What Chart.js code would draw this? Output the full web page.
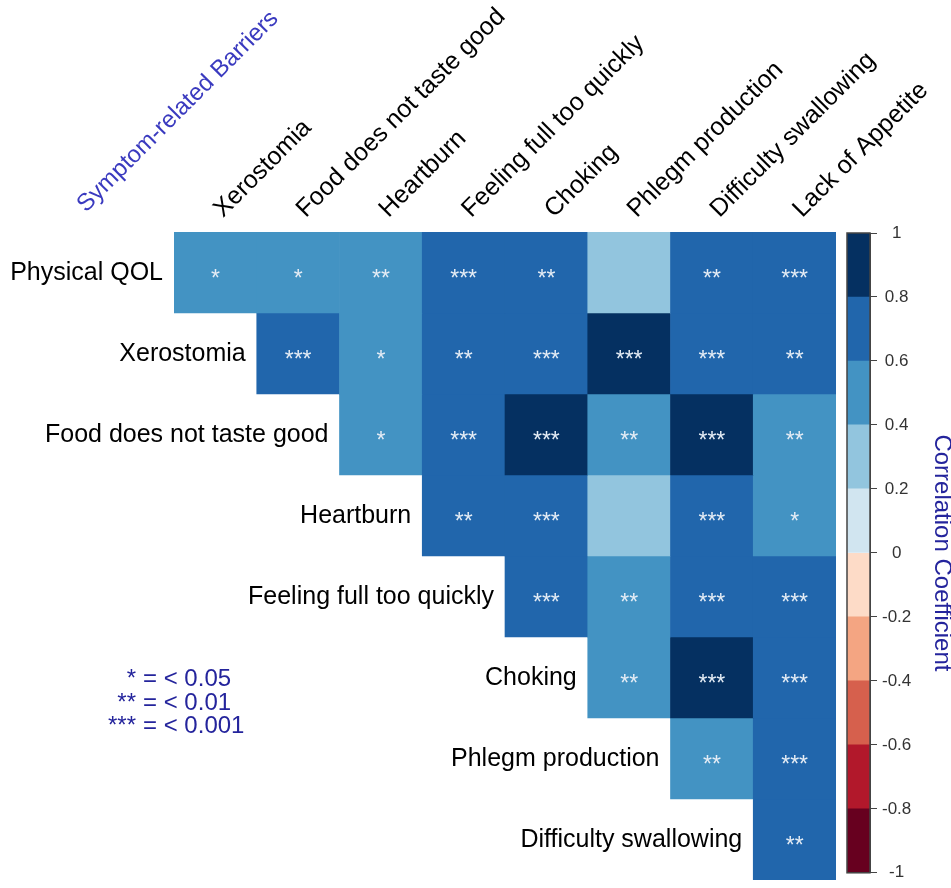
<!DOCTYPE html>
<html>
<head>
<meta charset="utf-8">
<script src="https://cdn.jsdelivr.net/npm/chart.js@4/dist/chart.umd.min.js"></script>
<style>
  html, body { margin: 0; padding: 0; background: #ffffff; }
  #wrap { position: relative; width: 951px; height: 888px; }
  #heat { position: absolute; left: 0; top: 0; }
  #bar  { position: absolute; left: 836px; top: 0; }
</style>
</head>
<body>
<div id="wrap">
  <canvas id="heat" width="951" height="888"></canvas>
  <canvas id="bar" width="115" height="888"></canvas>
</div>
<script>
// Barrier names across the top (columns) and down the side (rows)
const columnLabels = ['Xerostomia', 'Food does not taste good', 'Heartburn', 'Feeling full too quickly',
  'Choking', 'Phlegm production', 'Difficulty swallowing', 'Lack of Appetite'];
const rowLabels = ['Physical QOL', 'Xerostomia', 'Food does not taste good', 'Heartburn',
  'Feeling full too quickly', 'Choking', 'Phlegm production', 'Difficulty swallowing'];

// Correlation coefficients, one array per row (null = lower triangle, not drawn)
const physicalQol   = [0.47, 0.44, 0.52, 0.66, 0.61, 0.33, 0.63, 0.68];
const xerostomia    = [null, 0.71, 0.46, 0.62, 0.73, 0.84, 0.74, 0.65];
const foodTaste     = [null, null, 0.43, 0.70, 0.86, 0.57, 0.88, 0.55];
const heartburn     = [null, null, null, 0.64, 0.72, 0.36, 0.75, 0.48];
const feelingFull   = [null, null, null, null, 0.74, 0.56, 0.77, 0.72];
const choking       = [null, null, null, null, null, 0.54, 0.85, 0.73];
const phlegm        = [null, null, null, null, null, null, 0.58, 0.71];
const difficultySw  = [null, null, null, null, null, null, null, 0.66];

// Significance stars for each cell
const sigPhysicalQol  = ['*', '*', '**', '***', '**', '', '**', '***'];
const sigXerostomia   = ['', '***', '*', '**', '***', '***', '***', '**'];
const sigFoodTaste    = ['', '', '*', '***', '***', '**', '***', '**'];
const sigHeartburn    = ['', '', '', '**', '***', '', '***', '*'];
const sigFeelingFull  = ['', '', '', '', '***', '**', '***', '***'];
const sigChoking      = ['', '', '', '', '', '**', '***', '***'];
const sigPhlegm       = ['', '', '', '', '', '', '**', '***'];
const sigDifficultySw = ['', '', '', '', '', '', '', '**'];

// Colour scale: bin edges and the colour of each bin (low to high)
const binEdges  = [-1, -0.8, -0.6, -0.4, -0.2, 0, 0.2, 0.4, 0.6, 0.8, 1];
const binColors = ['#67001F', '#B2182B', '#D6604D', '#F4A582', '#FDDBC7',
                   '#D1E5F0', '#92C5DE', '#4393C3', '#2166AC', '#053061'];

// Significance key
const keyStars = ['*', '**', '***'];
const keyText  = ['= < 0.05', '= < 0.01', '= < 0.001'];

const matrix = [physicalQol, xerostomia, foodTaste, heartburn, feelingFull, choking, phlegm, difficultySw];
const stars  = [sigPhysicalQol, sigXerostomia, sigFoodTaste, sigHeartburn, sigFeelingFull, sigChoking, sigPhlegm, sigDifficultySw];

function colorFor(v) {
  if (v == null) return null;
  for (let i = 0; i < binColors.length; i++) {
    if (v <= binEdges[i + 1]) return binColors[i];
  }
  return binColors[binColors.length - 1];
}

const FONT = '"Liberation Sans", Arial, sans-serif';

// Stars inside the cells
const cellStars = {
  id: 'cellStars',
  afterDatasetsDraw(chart) {
    const ctx = chart.ctx;
    ctx.save();
    ctx.font = '23px ' + FONT;
    ctx.fillStyle = '#e4ecf5';
    ctx.textAlign = 'center';
    ctx.textBaseline = 'alphabetic';
    chart.data.datasets.forEach((ds, r) => {
      const meta = chart.getDatasetMeta(r);
      meta.data.forEach((el, c) => {
        if (ds.data[c] == null) return;
        const s = stars[r][c];
        if (!s) return;
        const cy = (el.y + el.base) / 2;
        ctx.fillText(s, el.x, cy + 13);
      });
    });
    ctx.restore();
  }
};

// Row labels, significance key and the group title
const sideText = {
  id: 'sideText',
  afterDraw(chart) {
    const ctx = chart.ctx;
    const xs = chart.scales.x, ys = chart.scales.y;
    const cellW = xs.getPixelForValue(1) - xs.getPixelForValue(0);
    ctx.save();
    ctx.font = '25px ' + FONT;
    ctx.fillStyle = '#000000';
    ctx.textAlign = 'right';
    ctx.textBaseline = 'middle';
    rowLabels.forEach((lab, i) => {
      const x = xs.getPixelForValue(i) - cellW / 2 - 11;
      const y = ys.getPixelForValue(i + 0.5);
      ctx.fillText(lab, x, y + 1);
    });

    // significance key
    const left = chart.chartArea.left;
    ctx.fillStyle = '#24249c';
    ctx.font = '24px ' + FONT;
    ctx.textBaseline = 'alphabetic';
    keyStars.forEach((s, i) => {
      const y = 686 + i * 23.5;
      ctx.textAlign = 'right';
      ctx.fillText(s, left - 38, y);
      ctx.textAlign = 'left';
      ctx.fillText(keyText[i], left - 31, y);
    });

    // group title, rotated like the column labels
    ctx.fillStyle = '#3a3abf';
    ctx.font = '24px ' + FONT;
    ctx.textAlign = 'left';
    ctx.translate(left - 88, 213);
    ctx.rotate(-Math.PI / 4);
    ctx.fillText('Symptom-related Barriers', 0, 0);
    ctx.restore();
  }
};

new Chart(document.getElementById('heat'), {
  type: 'bar',
  data: {
    labels: columnLabels,
    datasets: matrix.map((row, r) => ({
      label: rowLabels[r],
      data: row.map(v => (v == null ? null : [r, r + 1])),
      backgroundColor: row.map(colorFor),
      borderWidth: 0,
      grouped: false,
      barPercentage: 1,
      categoryPercentage: 1
    }))
  },
  options: {
    responsive: false,
    animation: false,
    events: [],
    layout: { padding: { left: 174, right: 115, top: 0, bottom: 8 } },
    plugins: { legend: { display: false }, tooltip: { enabled: false } },
    scales: {
      x: {
        type: 'category',
        position: 'top',
        offset: true,
        grid: { display: false },
        border: { display: false },
        ticks: {
          autoSkip: false,
          minRotation: 45,
          maxRotation: 45,
          padding: 0,
          labelOffset: 24,
          color: '#000000',
          font: { family: FONT, size: 25 }
        },
        afterFit(scale) { scale.height = 232; }
      },
      y: {
        type: 'linear',
        min: 0,
        max: 8,
        reverse: true,
        display: false
      }
    }
  },
  plugins: [cellStars, sideText]
});

// Colour key
const frame = {
  id: 'frame',
  afterDatasetsDraw(chart) {
    const a = chart.chartArea, ctx = chart.ctx;
    ctx.save();
    ctx.strokeStyle = '#444444';
    ctx.lineWidth = 1.5;
    ctx.strokeRect(a.left, a.top, a.right - a.left, a.bottom - a.top);
    ctx.restore();
  }
};

new Chart(document.getElementById('bar'), {
  type: 'bar',
  data: {
    labels: [''],
    datasets: binColors.map((col, i) => ({
      data: [[binEdges[i], binEdges[i + 1]]],
      backgroundColor: col,
      borderWidth: 0,
      grouped: false,
      barPercentage: 1,
      categoryPercentage: 1
    }))
  },
  options: {
    responsive: false,
    animation: false,
    events: [],
    layout: { padding: { left: 11, right: 0, top: 233, bottom: 10 } },
    plugins: { legend: { display: false }, tooltip: { enabled: false } },
    scales: {
      x: { display: false },
      y: {
        position: 'right',
        min: -1,
        max: 1,
        grid: { display: true, drawOnChartArea: false, drawTicks: true, tickLength: 7, color: '#444444' },
        border: { display: true, color: '#444444' },
        ticks: {
          stepSize: 0.2,
          padding: 5,
          crossAlign: 'center',
          color: '#333333',
          font: { family: FONT, size: 17 },
          callback: v => String(Math.round(v * 10) / 10)
        },
        title: {
          display: true,
          text: 'Correlation Coefficient',
          color: '#24249c',
          font: { family: FONT, size: 24, lineHeight: 0.75 },
          padding: 0
        },
        afterFit(scale) { scale.width = 81; }
      }
    }
  },
  plugins: [frame]
});
</script>
</body>
</html>
